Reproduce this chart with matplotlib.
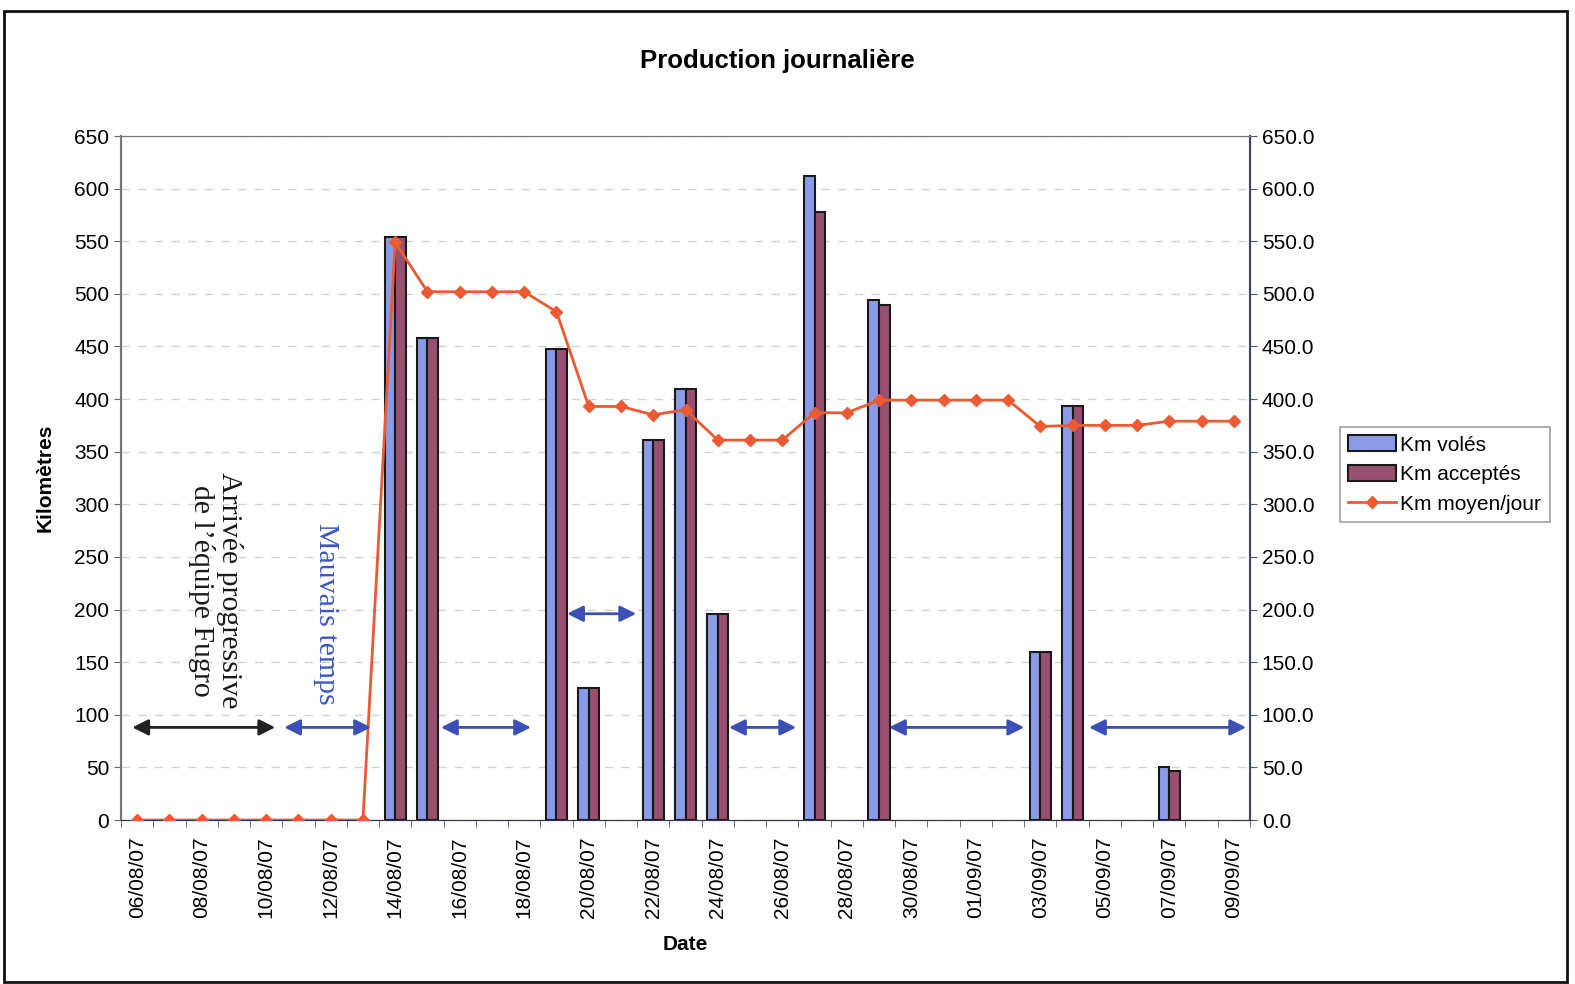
import matplotlib
matplotlib.use('Agg')
import matplotlib.pyplot as plt
from matplotlib.patches import Rectangle, Patch
import numpy as np

# daily dates, 06/08/07 -> 09/09/07
dates = ['06/08/07', '07/08/07', '08/08/07', '09/08/07', '10/08/07', '11/08/07',
         '12/08/07', '13/08/07', '14/08/07', '15/08/07', '16/08/07', '17/08/07',
         '18/08/07', '19/08/07', '20/08/07', '21/08/07', '22/08/07', '23/08/07',
         '24/08/07', '25/08/07', '26/08/07', '27/08/07', '28/08/07', '29/08/07',
         '30/08/07', '31/08/07', '01/09/07', '02/09/07', '03/09/07', '04/09/07',
         '05/09/07', '06/09/07', '07/09/07', '08/09/07', '09/09/07']

km_voles = [0, 0, 0, 0, 0, 0, 0, 0, 554, 458, 0, 0, 0, 448, 125, 0, 361, 410,
            196, 0, 0, 612, 0, 494, 0, 0, 0, 0, 160, 393, 0, 0, 50, 0, 0]
km_acceptes = [0, 0, 0, 0, 0, 0, 0, 0, 554, 458, 0, 0, 0, 448, 125, 0, 361, 410,
               196, 0, 0, 578, 0, 489, 0, 0, 0, 0, 160, 393, 0, 0, 47, 0, 0]
km_moyen = [0, 0, 0, 0, 0, 0, 0, 0, 549, 502, 502, 502, 502, 483, 393, 393, 385,
            390, 361, 361, 361, 387, 387, 399, 399, 399, 399, 399, 374, 375, 375,
            375, 379, 379, 379]

# annotation arrows (start index, end index, level, colour)
arrows = [(-0.15, 4.28, 88, '#222222'),
          (4.56, 7.25, 88, '#3b4fb5'),
          (9.42, 12.21, 88, '#3b4fb5'),
          (13.33, 15.47, 196, '#3b4fb5'),
          (18.35, 20.43, 88, '#3b4fb5'),
          (23.31, 27.5, 88, '#3b4fb5'),
          (29.51, 34.38, 88, '#3b4fb5')]

c_voles = '#8a9be8'
c_acc = '#97506f'
c_moy = '#eb5a32'

plt.rcParams['font.family'] = ['Liberation Sans', 'DejaVu Sans']

fig = plt.figure(figsize=(15.75, 9.84), dpi=100)
fig.patch.set_facecolor('white')
ax = fig.add_axes([121/1575, 1-820/984, (1250-121)/1575, (820-136)/984])
ax2 = ax.twinx()

x = np.arange(len(dates))
w = 0.33
# no outline for empty days
ec1 = ['#1a1a1a' if v > 0 else 'none' for v in km_voles]
ec2 = ['#1a1a1a' if v > 0 else 'none' for v in km_acceptes]
ax.bar(x - w/2, km_voles, w, color=c_voles, edgecolor=ec1, linewidth=1.5, zorder=3)
ax.bar(x + w/2, km_acceptes, w, color=c_acc, edgecolor=ec2, linewidth=1.5, zorder=3)
ln, = ax2.plot(x, km_moyen, color=c_moy, linewidth=2, marker='D', markersize=6,
               label='Km moyen/jour', zorder=4)

ax.set_xlim(-0.5, len(dates) - 0.5)
ax.set_ylim(0, 650)
ax2.set_ylim(0, 650)
ax.set_yticks(np.arange(0, 651, 50))
ax2.set_yticks(np.arange(0, 651, 50))
ax2.set_yticklabels(['%.1f' % v for v in np.arange(0, 651, 50)])
ax.grid(axis='y', color='#d2d2d2', linestyle=(0, (6, 6)), linewidth=1, zorder=0)
ax.set_axisbelow(True)

ax.set_xticks(x[::2])
ax.set_xticklabels(dates[::2], rotation=90)
ax.set_xticks(np.arange(-0.5, len(dates), 1), minor=True)
ax.tick_params(axis='x', which='major', length=0, labelsize=15, pad=12)
ax.tick_params(axis='x', which='minor', length=5, direction='out', color='#555555')
ax.tick_params(axis='y', labelsize=15, length=5, color='#666666')
ax2.tick_params(axis='y', labelsize=15, length=5, color='#555577')

for s in ['left', 'top']:
    ax.spines[s].set_color('#777777')
    ax2.spines[s].set_color('#777777')
ax.spines['bottom'].set_color('#333355')
ax2.spines['bottom'].set_color('#333355')
ax2.spines['right'].set_color('#444466')
ax.spines['left'].set_linewidth(1.5)
ax2.spines['right'].set_linewidth(1.5)

ax.set_ylabel('Kilomètres', fontsize=15, fontweight='bold', labelpad=14)
ax.set_xlabel('Date', fontsize=15, fontweight='bold', labelpad=12)
fig.text(777/1575, 1-61/984, 'Production journalière', fontsize=18.5, fontweight='bold',
         ha='center', va='center')

for x0, x1, yv, c in arrows:
    ax2.annotate('', xy=(x1, yv), xytext=(x0, yv),
                 arrowprops=dict(arrowstyle='<|-|>', color=c, lw=2,
                                 mutation_scale=24, shrinkA=0, shrinkB=0), zorder=5)

ax2.text(2.42, 218, "Arrivée progressive\nde l’équipe Fugro", rotation=270,
         ha='center', va='center', fontsize=21.5, family=['Liberation Serif', 'DejaVu Serif'],
         color='#1a1a1a', linespacing=1.05, zorder=5)
ax2.text(5.86, 196, 'Mauvais temps', rotation=270, ha='center', va='center',
         fontsize=21.5, family=['Liberation Serif', 'DejaVu Serif'], color='#3b55c8', zorder=5)

handles = [Patch(facecolor=c_voles, edgecolor='#1a1a1a', linewidth=1.5, label='Km volés'),
           Patch(facecolor=c_acc, edgecolor='#1a1a1a', linewidth=1.5, label='Km acceptés'),
           ln]
leg = ax2.legend(handles=handles, loc='upper left',
                 bbox_to_anchor=(1340/1575, 1-427/984), bbox_transform=fig.transFigure,
                 borderaxespad=0, fontsize=15, fancybox=False, edgecolor='#888888',
                 handlelength=2.3, handleheight=0.8, handletextpad=0.2, borderpad=0.4,
                 labelspacing=0.5)
leg.get_frame().set_linewidth(1.2)

# outer frame of the page
fig.patches.append(Rectangle((4/1575, 1-982/984), (1567-4)/1575, (982-11)/984,
                             transform=fig.transFigure, fill=False, edgecolor='#111111',
                             linewidth=2))

fig.savefig('out.png', dpi=100)
